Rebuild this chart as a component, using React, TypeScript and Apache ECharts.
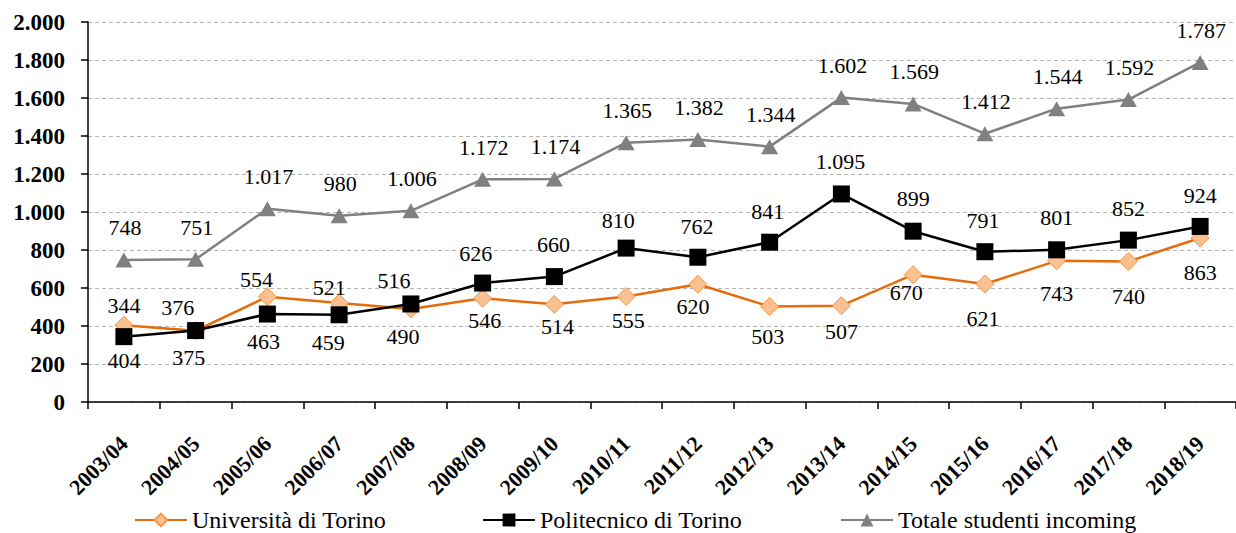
import React, { useEffect, useRef } from "react";
import * as echarts from "echarts";

const categories = [
  "2003/04", "2004/05", "2005/06", "2006/07", "2007/08", "2008/09", "2009/10", "2010/11",
  "2011/12", "2012/13", "2013/14", "2014/15", "2015/16", "2016/17", "2017/18", "2018/19",
];
const universita = [404, 375, 554, 521, 490, 546, 514, 555, 620, 503, 507, 670, 621, 743, 740, 863];
const politecnico = [344, 376, 463, 459, 516, 626, 660, 810, 762, 841, 1095, 899, 791, 801, 852, 924];
const totale = [748, 751, 1017, 980, 1006, 1172, 1174, 1365, 1382, 1344, 1602, 1569, 1412, 1544, 1592, 1787];
const seriesNames = ["Università di Torino", "Politecnico di Torino", "Totale studenti incoming"];

// label placement (offsets from the marker centre), layout only
const uniLabelOffsets = [
  [0, 35], [-7, 27], [-11, -17], [-10, -16], [-8, 28], [2, 22], [3, 22], [2, 24],
  [-5, 22], [-2, 30], [0, 26], [-7, 18], [-2, 34], [0, 33], [0, 35], [0, 34],
];
const poliLabelOffsets = [
  [0, -31], [-18, -23], [-4, 27], [-11, 28], [-17, -23], [-7, -30], [-1, -32], [-8, -28],
  [-1, -31], [-2, -31], [-1, -32], [0, -33], [-2, -31], [0, -32], [0, -32], [0, -31],
];
const totLabelOffset = [1, -32];

const FONT = "Liberation Serif, Times New Roman, serif";
const fmt = (v: number) => String(v).replace(/\B(?=(\d{3})+(?!\d))/g, ".");

export default function App() {
  const ref = useRef<HTMLDivElement>(null);
  useEffect(() => {
    if (!ref.current) return;
    const chart = echarts.init(ref.current, undefined, { renderer: "svg" });
    const labelBase = {
      show: true,
      position: "inside",
      fontFamily: FONT,
      fontSize: 22,
      color: "#000",
      formatter: (p: any) => fmt(p.value),
    };
    const legendBase = {
      top: 503,
      itemWidth: 52,
      itemHeight: 16,
      itemGap: 5,
      textStyle: { fontFamily: FONT, fontSize: 24, color: "#000" },
      selectedMode: false,
    };
    chart.setOption({
      animation: false,
      backgroundColor: "#fff",
      textStyle: { fontFamily: FONT },
      grid: { left: 88, right: -8, top: 22, bottom: 131, containLabel: false },
      legend: [
        { ...legendBase, left: 129, data: [seriesNames[0]] },
        { ...legendBase, left: 477, data: [seriesNames[1]] },
        { ...legendBase, left: 835, data: [seriesNames[2]] },
      ],
      xAxis: {
        type: "category",
        data: categories,
        boundaryGap: true,
        axisLine: { lineStyle: { color: "#000", width: 1.5 } },
        axisTick: { show: true, length: 7, lineStyle: { color: "#000", width: 1.5 } },
        axisLabel: {
          interval: 0,
          rotate: 45,
          margin: 38,
          fontFamily: FONT,
          fontSize: 22,
          fontWeight: "bold",
          color: "#000",
        },
        splitLine: { show: false },
      },
      yAxis: {
        type: "value",
        min: 0,
        max: 2000,
        interval: 200,
        axisLine: { show: true, lineStyle: { color: "#000", width: 1.5 } },
        axisTick: { show: true, length: 7, lineStyle: { color: "#000", width: 1.5 } },
        axisLabel: {
          margin: 23,
          fontFamily: FONT,
          fontSize: 23,
          fontWeight: "bold",
          color: "#000",
          formatter: (v: number) => fmt(v),
        },
        splitLine: { show: true, lineStyle: { color: "#b4b4b4", type: [4, 3], width: 1 } },
      },
      series: [
        {
          name: seriesNames[0],
          type: "line",
          data: universita.map((v, i) => ({ value: v, label: { offset: uniLabelOffsets[i] } })),
          symbol: "diamond",
          symbolSize: 18,
          itemStyle: { color: "#fac090", borderColor: "#f79646", borderWidth: 1 },
          lineStyle: { color: "#e46c0a", width: 2.5 },
          label: labelBase,
          z: 2,
        },
        {
          name: seriesNames[1],
          type: "line",
          data: politecnico.map((v, i) => ({ value: v, label: { offset: poliLabelOffsets[i] } })),
          symbol: "rect",
          symbolSize: 17,
          itemStyle: { color: "#000" },
          lineStyle: { color: "#000", width: 2.5 },
          label: labelBase,
          z: 3,
        },
        {
          name: seriesNames[2],
          type: "line",
          data: totale.map((v) => ({ value: v, label: { offset: totLabelOffset } })),
          symbol: "triangle",
          symbolSize: [17, 15],
          itemStyle: { color: "#808080" },
          lineStyle: { color: "#808080", width: 2.5 },
          label: labelBase,
          z: 4,
        },
      ],
    });
    return () => chart.dispose();
  }, []);
  return (
    <div
      ref={ref}
      style={{ position: "fixed", left: 0, top: 0, width: 1236, height: 533, background: "#fff" }}
    />
  );
}
